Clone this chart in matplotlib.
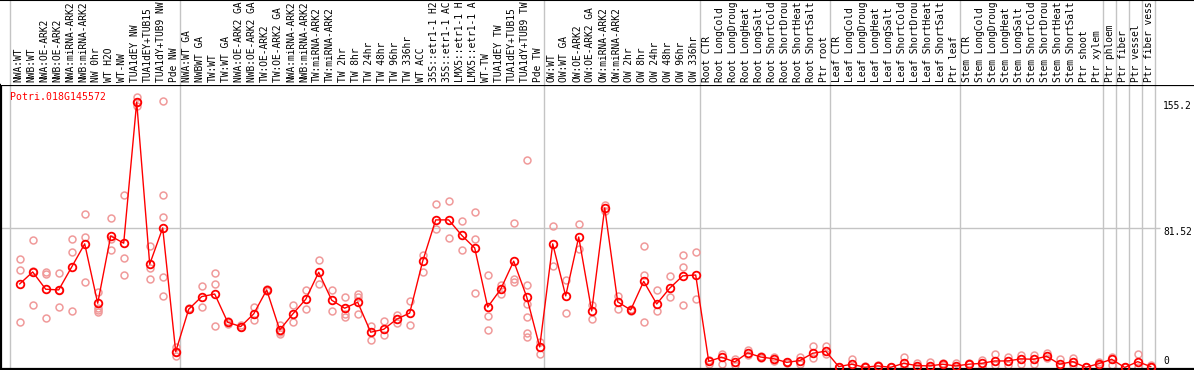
import matplotlib
matplotlib.use("Agg")
import matplotlib.pyplot as plt

gene = "Potri.018G145572"

samples = [
    "NWA:WT", "NWB:WT", "NWA:OE-ARK2", "NWB:OE-ARK2", "NWA:miRNA-ARK2", "NWB:miRNA-ARK2",
    "NW 0hr", "WT H2O", "WT-NW", "TUA1dEY NW", "TUA1dEY+TUB15 NW", "TUA1dY+TUB9 NW", "Pde NW",
    "NWA:WT GA", "NWBWT GA", "TW:WT", "TW:WT GA", "NWA:OE-ARK2 GA", "NWB:OE-ARK2 GA",
    "TW:OE-ARK2", "TW:OE-ARK2 GA", "NWA:miRNA-ARK2", "NWB:miRNA-ARK2", "TW:miRNA-ARK2",
    "TW:miRNA-ARK2", "TW 2hr", "TW 8hr", "TW 24hr", "TW 48hr", "TW 96hr", "TW 336hr", "WT ACC",
    "35S::etr1-1 H2O", "35S::etr1-1 ACC", "LMX5::etr1-1 H2O", "LMX5::etr1-1 ACC", "WT-TW",
    "TUA1dEY TW", "TUA1dEY+TUB15 TW", "TUA1dY+TUB9 TW", "Pde TW",
    "OW:WT", "OW:WT GA", "OW:OE-ARK2", "OW:OE-ARK2 GA", "OW:miRNA-ARK2", "OW:miRNA-ARK2",
    "OW 2hr", "OW 8hr", "OW 24hr", "OW 48hr", "OW 96hr", "OW 336hr",
    "Root CTR", "Root LongCold", "Root LongDrought", "Root LongHeat", "Root LongSalt",
    "Root ShortCold", "Root ShortDrought", "Root ShortHeat", "Root ShortSalt", "Ptr root",
    "Leaf CTR", "Leaf LongCold", "Leaf LongDrought", "Leaf LongHeat", "Leaf LongSalt",
    "Leaf ShortCold", "Leaf ShortDrought", "Leaf ShortHeat", "Leaf ShortSalt", "Ptr leaf",
    "Stem CTR", "Stem LongCold", "Stem LongDrought", "Stem LongHeat", "Stem LongSalt",
    "Stem ShortCold", "Stem ShortDrought", "Stem ShortHeat", "Stem ShortSalt", "Ptr shoot",
    "Ptr xylem", "Ptr phloem", "Ptr fiber", "Ptr vessel", "Ptr fiber vessel",
]

means = [
    48.8, 55.8, 45.7, 45.3, 58.7, 72.2, 37.5, 76.8, 72.6, 155.0, 60.3, 81.5, 9.2,
    34.0, 41.4, 42.9, 26.4, 23.9, 31.3, 45.3, 21.9, 31.2, 39.8, 55.6, 39.3, 34.6, 38.1,
    20.6, 22.3, 28.2, 31.8, 62.1, 86.2, 86.2, 77.2, 69.8, 35.3, 45.7, 62.1, 41.2, 12.0,
    72.2, 41.8, 76.2, 33.0, 93.2, 38.3, 33.6, 50.3, 37.1, 46.3, 53.5, 54.0,
    3.6, 6.0, 3.2, 8.5, 6.1, 5.1, 3.0, 4.0, 8.3, 9.5,
    0.5, 1.9, 0.1, 0.9, 0.1, 2.4, 1.1, 0.9, 1.9, 0.9,
    1.9, 2.4, 3.8, 3.8, 5.0, 4.8, 6.5, 1.9, 3.4, 0.1,
    2.2, 4.8, 0.0, 3.4, 0.5,
]

reps = [
    [63.2, 56.8, 26.4], [74.5, 36.5, 56.4], [56.0, 54.4, 28.9], [55.2, 35.3, 45.3],
    [75.1, 67.5, 33.0], [89.5, 76.4, 49.8], [43.9, 34.6, 33.6, 32.6], [87.4, 74.9, 68.5],
    [100.6, 63.8, 53.9], [157.9, 152.8, 155.0], [70.8, 58.3, 51.5],
    [155.5, 100.6, 87.8, 52.7, 41.8], [12.2, 6.9, 9.2],
    [34.0, 34.5], [47.6, 35.5], [55.2, 48.6, 24.1], [25.5, 27.4], [23.9, 24.6],
    [35.3, 27.8], [44.8, 46.0], [20.7, 19.6, 25.0], [36.5, 26.4], [45.1, 34.0],
    [62.6, 48.6], [45.1, 33.0], [41.0, 31.1, 29.5], [42.9, 41.4, 31.1], [24.1, 16.2],
    [27.2, 18.8], [30.7, 25.8], [38.9, 24.7], [65.9, 55.6], [95.4, 80.9], [97.3, 75.5],
    [85.6, 68.5], [90.9, 74.9, 43.5], [53.9, 30.3, 21.9], [48.4, 42.8],
    [84.3, 51.7, 50.1], [121.1, 48.2, 37.3, 29.7, 20.0, 18.0], [15.1, 7.7],
    [82.7, 59.1], [50.9, 31.8], [83.8, 69.2], [36.5, 28.5], [95.0, 91.6], [41.8, 34.0],
    [34.2, 33.0], [70.8, 53.9, 26.4], [45.1, 32.8], [53.3, 41.0], [65.6, 58.7, 36.3],
    [67.3, 40.2],
    [4.5, 2.0], [8.1, 2.0], [5.1, 1.5], [10.0, 7.0], [6.8, 5.5], [6.3, 3.9], [3.0, 2.6],
    [6.3, 1.8], [12.4, 5.8], [12.8, 7.7],
    [0.5, 0.2], [5.1, 0.0], [0.9, 0.0], [0.9, 1.2], [0.1, 0.4], [6.0, 0.6], [2.6, 0.4],
    [3.4, 0.0], [2.8, 1.4], [2.8, 0.0],
    [1.9, 2.4], [4.4, 0.5], [7.9, 1.5], [6.0, 1.6], [7.1, 2.2], [7.0, 2.3], [8.3, 5.4],
    [4.8, 0.2], [5.8, 1.3], [0.1, 0.3],
    [3.4, 1.2], [6.3, 1.4], [0.0, 0.2], [7.9, 0.0], [1.3, 0.0],
]

group_edges = [-0.72, 12.35, 40.35, 52.35, 62.35, 72.35, 83.35, 84.35, 85.35, 86.35, 87.35]
tick_values = [155.2, 81.52, 0]
tick_labels = ["155.2", "81.52", "0"]

# the label strip is only ~14 characters tall, longer names run off the top
max_chars = 14

W, H = 1194, 370
mono = "DejaVu Sans Mono"
fs = 6.9
fig = plt.figure(figsize=(W / 100, H / 100), dpi=100)

# x data range chosen so that sample i sits at pixel 19.7 + 13 * i
xmin = (1 - 19.7) / 13
xmax = (W - 19.7) / 13

ax = fig.add_axes([1 / W, 1 - 369 / H, (W - 1) / W, (369 - 85) / H])
lab = fig.add_axes([1 / W, 1 - 85 / H, (W - 1) / W, 85 / H])

x = list(range(len(samples)))

for a in (ax, lab):
    a.set_xlim(xmin, xmax)
    for e in group_edges:
        a.axvline(e, color="#c4c4c4", lw=1.0, zorder=0)

ax.set_ylim(-0.9, 165.0)
ax.hlines(81.52, xmin, 87.75, color="#c4c4c4", lw=1.0, zorder=0)

for xi, r in zip(x, reps):
    ax.plot([xi] * len(r), r, ls="none", marker="o", ms=5, mfc="none",
            mec="#f09a9a", mew=1.1, zorder=2)
ax.plot(x, means, color="#ff0000", lw=1.0, marker="o", ms=5.5, mfc="none",
        mec="#ff0000", mew=1.3, zorder=3)

ax.text(9 / (W - 1), 1 - (96.7 - 85) / 284, gene, transform=ax.transAxes,
        color="#ff0000", family=mono, fontsize=fs + 0.2, ha="left", va="center")

offsets = [-4, -4, 6]
for v, t, off in zip(tick_values, tick_labels, offsets):
    ax.annotate(t, xy=((1163 - 19.7) / 13, v), xytext=(0, off), textcoords="offset pixels",
                family=mono, fontsize=fs, ha="left", va="center", color="black")

ax.set_xticks([])
ax.set_yticks([])
ax.spines["right"].set_visible(False)
for s in ("left", "top", "bottom"):
    ax.spines[s].set_linewidth(1.6)
    ax.spines[s].set_color("black")

lab.set_ylim(0, 85)
lab.set_yticks([])
lab.set_xticks([])
for s in ("left", "right", "bottom"):
    lab.spines[s].set_visible(False)
lab.spines["top"].set_linewidth(1.5)
for xi, name in zip(x, samples):
    lab.text(xi - 0.12, 2.5, name[:max_chars].rstrip(), rotation=90, ha="center", va="bottom",
             family=mono, fontsize=fs, color="black", clip_on=True)

fig.savefig("out.png", dpi=100)
